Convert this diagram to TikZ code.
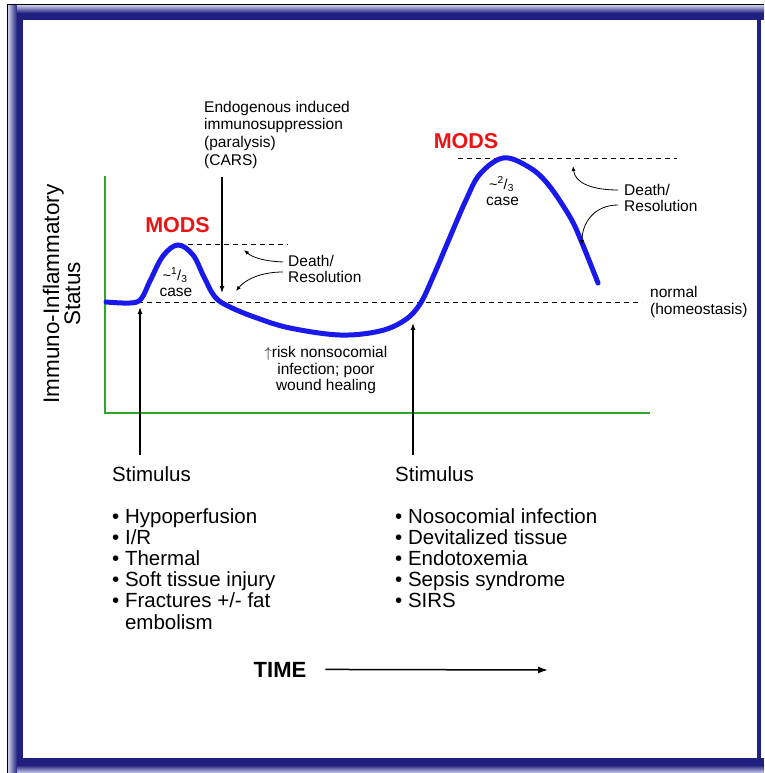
\documentclass[tikz,border=0pt]{standalone}
\usepackage{fontspec}
\setmainfont{Liberation Sans}
\usetikzlibrary{arrows.meta}

\definecolor{framenavy}{RGB}{32,32,128}
\definecolor{framelight}{RGB}{205,205,232}
\definecolor{axisgreen}{RGB}{40,170,40}
\definecolor{curveblue}{RGB}{25,25,235}
\definecolor{modsred}{RGB}{235,20,20}

\begin{document}
\begin{tikzpicture}[x=1pt, y=-1pt,
		txt/.style={inner sep=0pt, font=\fontsize{15.5}{17}\selectfont},
		fractxt/.style={inner sep=0pt, font=\fontsize{14.5}{15}\selectfont},
		listtxt/.style={inner sep=0pt, font=\fontsize{20.5}{21}\selectfont},
		mods/.style={inner sep=0pt, text=modsred, font=\fontsize{21.5}{22}\selectfont\bfseries},
		guide/.style={dash pattern=on 5pt off 4pt, line width=0.9pt},
		pointer/.style={-{Latex[length=7pt,width=5pt]}, line width=1.2pt},
		thinptr/.style={-{Latex[length=5pt,width=4pt]}, line width=0.8pt}]
		\useasboundingbox (0,0) rectangle (764,773);

		% frame
		\fill[framenavy] (8,5) rectangle (23,773);
		\fill[framenavy] (8,5) rectangle (764,20);
		\fill[framenavy] (8,758) rectangle (764,773);
		\shade[left color=framelight, right color=framenavy] (8,5) rectangle (17,773);
		\shade[top color=framelight, bottom color=framenavy] (17,5) rectangle (764,13);
		\shade[top color=framenavy, bottom color=framelight] (17,765) rectangle (764,773);
		\fill[framenavy] (757,20) rectangle (761,758);
		\fill[white] (23,20) rectangle (757,758);
		\draw[line width=0.8pt] (7,773) -- (7,4) -- (764,4);

		% axes
		\coordinate (yTop) at (105,176);
		\coordinate (origin) at (105,413);
		\coordinate (xEnd) at (650,413);
		\draw[axisgreen, line width=2pt] (yTop) -- (origin) -- (xEnd);

		% levels
		\draw[guide] (120,302) -- (642,302);
		\draw[guide] (188,244) -- (288,244);
		\draw[guide] (458,158) -- (677,158);

		% response curve
		\draw[curveblue, line width=5pt, line cap=round, smooth, tension=0.6] plot coordinates {(106,302) (130,303) (141,299) (150,281) (163,256) (178,245) (193,255) (204,277) (215,297) (230,307) (257,318) (290,328) (340,335) (380,331) (405,320) (420,304) (433,277) (450,237) (466,200) (480,174) (503,158) (527,166) (547,183) (570,217) (582,243) (598,283)};

		% labels on the curve
		\node[mods, anchor=base] (modsA) at (177.5,232) {MODS};
		\node[mods, anchor=base] (modsB) at (466,148) {MODS};
		\node[fractxt, anchor=base] (fracA) at (175,280) {\textasciitilde\textsuperscript{1}/\textsubscript{3}};
		\node[txt, anchor=base] (caseA) at (176,296) {case};
		\node[fractxt, anchor=base] (fracB) at (501.5,189) {\textasciitilde\textsuperscript{2}/\textsubscript{3}};
		\node[txt, anchor=base] (caseB) at (502.5,205.5) {case};

		% CARS
		\node[txt, align=left, anchor=north west, font=\fontsize{15.5}{17.8}\selectfont] (cars) at (204,100.7) {Endogenous induced\\immunosuppression\\(paralysis)\\(CARS)};
		\coordinate (carsFoot) at (222,177);
		\coordinate (carsTip) at (222,293);
		\draw[pointer] (carsFoot) -- (carsTip);

		% death / resolution
		\node[txt, align=left, anchor=north west, font=\fontsize{15.5}{16}\selectfont] (deathA) at (288,254.7) {Death/\\Resolution};
		\coordinate (deathA1) at (283,262);
		\coordinate (deathA2) at (283,272);
		\coordinate (peakA) at (244,250);
		\coordinate (fallA) at (236,291);
		\draw[thinptr] (deathA1) .. controls (262,261) and (252,257) .. (peakA);
		\draw[thinptr] (deathA2) .. controls (260,272) and (245,280) .. (fallA);

		\node[txt, align=left, anchor=north west, font=\fontsize{15.5}{16.5}\selectfont] (deathB) at (624,183.7) {Death/\\Resolution};
		\coordinate (deathB1) at (618,190);
		\coordinate (deathB2) at (618,205);
		\coordinate (peakB) at (573,166);
		\coordinate (fallB) at (582,245);
		\draw[thinptr] (deathB1) .. controls (592,190) and (575,183) .. (peakB);
		\draw[thinptr] (deathB2) .. controls (595,205) and (582,222) .. (fallB);

		\node[txt, align=left, anchor=north west] (normal) at (650,286.5) {normal\\(homeostasis)};
		\node[txt, align=center, anchor=north, font=\fontsize{15.5}{16.5}\selectfont] (risk) at (326,346.5) {$\uparrow$risk nonsocomial\\infection; poor\\wound healing};

		% y label
		\node[inner sep=0pt, rotate=90, align=center, font=\fontsize{22.5}{21}\selectfont] (ylabel) at (61.5,294) {Immuno-Inflammatory\\Status};

		% stimuli
		\coordinate (stimAfoot) at (140,455);
		\coordinate (stimAtip) at (140,307);
		\coordinate (stimBfoot) at (413,455);
		\coordinate (stimBtip) at (413,323);
		\draw[pointer] (stimAfoot) -- (stimAtip);
		\draw[pointer] (stimBfoot) -- (stimBtip);

		\node[listtxt, anchor=base west] (stimA) at (112,481) {Stimulus};
		\node[listtxt, anchor=base west] (stimB) at (395,481) {Stimulus};
		\node[listtxt, anchor=north west] (causesA) at (112,508.3) {\begin{tabular}{@{}l@{\ }l@{}}
			\textbullet & Hypoperfusion\\
			\textbullet & I/R\\
			\textbullet & Thermal\\
			\textbullet & Soft tissue injury\\
			\textbullet & Fractures +/- fat\\
			& embolism
		\end{tabular}};
		\node[listtxt, anchor=north west] (causesB) at (395,508.3) {\begin{tabular}{@{}l@{\ }l@{}}
			\textbullet & Nosocomial infection\\
			\textbullet & Devitalized tissue\\
			\textbullet & Endotoxemia\\
			\textbullet & Sepsis syndrome\\
			\textbullet & SIRS
		\end{tabular}};

		% time axis
		\node[inner sep=0pt, anchor=base, font=\fontsize{22}{22}\selectfont\bfseries] (time) at (280,677) {TIME};
		\coordinate (timeEnd) at (548,670);
		\draw[-{Latex[length=10pt,width=7pt]}, line width=1.5pt] ([xshift=19pt]time.east) -- (timeEnd);
	\end{tikzpicture}
\end{document}
